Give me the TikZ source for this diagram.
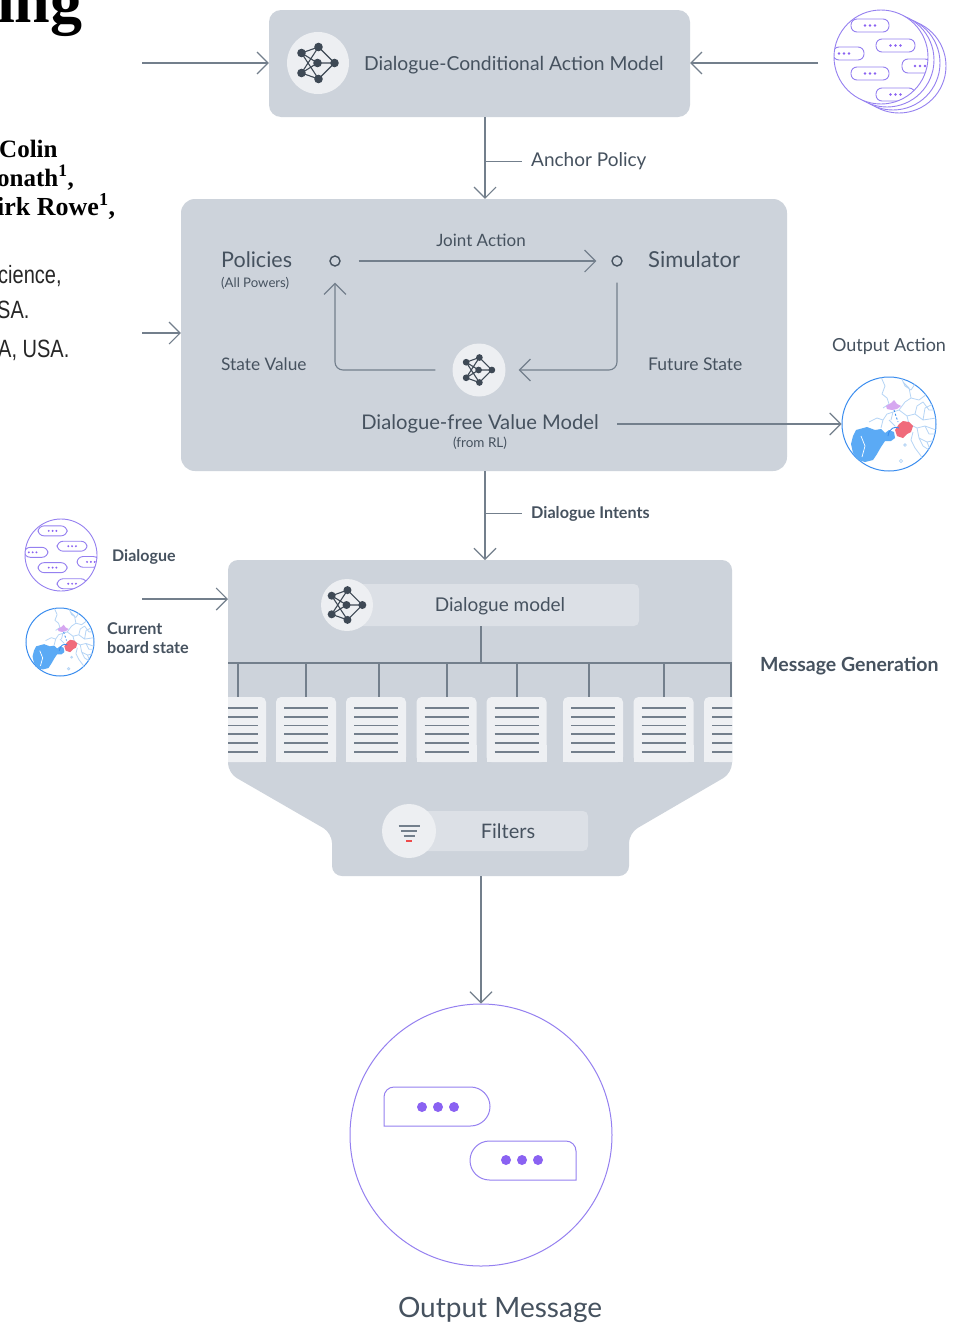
\documentclass[tikz,border=0pt]{standalone}
\usepackage{fontspec}
\setmainfont{Lato}
\newfontfamily\serifhead{Liberation Serif}
\newfontfamily\narrowsans[FakeStretch=0.8]{Liberation Sans}
\usetikzlibrary{arrows.meta,calc}

\newcommand\fsz[1]{\fontsize{#1}{#1}\selectfont}

\definecolor{panel}{HTML}{CDD3DB}
\definecolor{chip}{HTML}{EDEFF2}
\definecolor{barc}{HTML}{DCE0E6}
\definecolor{docc}{HTML}{EEF0F3}
\definecolor{ink}{HTML}{46525F}
\definecolor{wirec}{HTML}{737F8C}
\definecolor{iconc}{HTML}{3E4955}
\definecolor{violet}{HTML}{9580F0}
\definecolor{violetdot}{HTML}{8A62F2}
\definecolor{mapblue}{HTML}{3A8DEF}
\definecolor{landblue}{HTML}{5BAAF5}
\definecolor{borderc}{HTML}{B6D5F6}
\definecolor{mapred}{HTML}{F06B7B}
\definecolor{mappink}{HTML}{D6A7F0}
\definecolor{filterred}{HTML}{EE4B4B}

\tikzset{
  wire/.style={draw=wirec, line width=1.1pt},
  arr/.style={wire, -{Straight Barb[length=11pt,width=22pt,line width=1.1pt]}},
  lbl/.style={inner sep=0pt, text=ink},
  chipnode/.style={circle, fill=chip, minimum size=#1, inner sep=0pt},
  barnode/.style={fill=barc, rounded corners=5pt, inner sep=0pt},
  dotc/.style={circle, draw=ink, line width=1.4pt, minimum size=10, inner sep=0pt},
  docnode/.style={fill=docc, rounded corners=5pt, minimum width=60, minimum height=65, inner sep=0pt},
  % neural network glyph
  pics/nnet/.style={code={
    \draw[iconc, line width=1.1pt]
      (-16.5,-10) -- (0.5,-16) -- (16.5,0) -- (-0.5,0) -- (-16.5,-10) -- (0.5,16) -- (16.5,0)
      (-16.5,10) -- (0.5,16) (-16.5,10) -- (-0.5,0) (-16.5,10) -- (0.5,-16);
    \foreach \p in {(-16.5,-10),(0.5,-16),(-0.5,0),(16.5,0),(-16.5,10),(0.5,16)}
      \fill[iconc] \p circle[radius=4.3];
  }},
  % chat bubbles inside a round frame of radius 47
  pics/chat/.style={code={
    \begin{scope}
      \clip (0,0) circle[radius=47];
      \foreach \xa/\ya/\xb/\yb/\dx in
        {-30/-38/8/-25/-11, -5/-18/34/-5/14.5, -48/-10/-17/3/-37,
          21/2/50/16/39, -30/10/8/23/-11, -5/31/34/44/14.5}{
        \draw[violet, line width=0.9pt, rounded corners=6pt] (\xa,\ya) rectangle (\xb,\yb);
        \foreach \k in {-5,0,5}
          \fill[violetdot] ({\dx+\k},{(\ya+\yb)/2}) circle[radius=1.4];
      }
    \end{scope}
  }},
  % simplified board map inside a round frame of radius 47
  pics/board/.style={code={
    \begin{scope}
      \clip (0,0) circle[radius=47];
      \draw[borderc, line width=0.8pt, line join=round]
        (-8,-47) -- (-4,-38) -- (-7,-30) -- (-2,-26) -- (0,-20) -- (-6,-16)
        (-20,-2) -- (-12,-6) -- (-6,-4) -- (-2,-10) -- (4,-12) -- (10,-14) -- (16,-22) -- (22,-26) -- (30,-24) -- (38,-30) -- (47,-28)
        (10,-14) -- (18,-8) -- (26,-10) -- (34,-4) -- (47,-6)
        (18,-8) -- (20,0) -- (28,4) -- (36,2) -- (47,6)
        (28,4) -- (30,14) -- (38,18) -- (47,16)
        (24,8) -- (22,16) -- (26,24) -- (32,32) -- (36,40) -- (34,47)
        (30,14) -- (34,22) -- (40,26)
        (12,-47) -- (16,-38) -- (22,-34) -- (26,-40) -- (30,-47)
        (30,-36) -- (36,-40) -- (44,-34)
        (38,18) -- (42,28) -- (47,30)
        (-6,-4) -- (-8,4) (0,-4) -- (6,2) (4,-12) -- (2,-4)
        (34,-4) -- (36,-16) -- (44,-20)
        (22,-26) -- (20,-36) -- (14,-42)
        (26,-10) -- (28,-18) -- (34,-22) -- (40,-14) -- (47,-14)
        (36,2) -- (40,10) -- (47,10)
        (40,26) -- (44,36) -- (40,44);
      \draw[borderc, line width=0.8pt] (12,37) circle[radius=1.6] (16,21) circle[radius=1.3];
      \fill[landblue] (-33,6) -- (-22,3) -- (-14,6) -- (-8,5) -- (-4,9) -- (0,6) -- (5,8) -- (6,14)
        -- (2,17) -- (-4,17) -- (-8,23) -- (-12,30) -- (-16,36) -- (-24,38) -- (-31,36)
        -- (-36,29) -- (-38,20) -- (-36,12) -- cycle;
      \draw[white, line width=0.7pt] (-28,12) -- (-24,22) -- (-27,33);
      \fill[mapred] (10,0) -- (14,-3) -- (20,-2) -- (24,2) -- (22,8) -- (18,10) -- (14,14) -- (8,12) -- (6,6) -- cycle;
      \fill[mappink] (-3,-18) -- (2,-21) -- (5,-24) -- (8,-20) -- (12,-18) -- (8,-15) -- (3,-14) -- (-2,-15) -- cycle;
      \draw[mapblue, line width=0.9pt, dash pattern=on 2pt off 2pt] (5,-14) -- (9,-2);
      \draw[mapblue, line width=0.9pt] (-1,12) .. controls (0,4) and (6,2) .. (10,4);
    \end{scope}
  }}
}

\begin{document}
\begin{tikzpicture}[x=1pt, y=-1pt]
\useasboundingbox (0,0) rectangle (961,1325);
\fill[white] (0,0) rectangle (961,1325);

% ---------- neighbouring page text (cut at the left edge) ----------
\node[anchor=base west, inner sep=0pt] (ttl) at (-3,22) {\serifhead\bfseries\fsz{64}ing};
\node[anchor=base west, inner sep=0pt] (au1) at (-1,157) {\serifhead\bfseries\fsz{25}Colin};
\node[anchor=base west, inner sep=0pt] (au2) at (-3,186) {\serifhead\bfseries\fsz{25}onath\textsuperscript{1},};
\node[anchor=base west, inner sep=0pt] (au3) at (-3,215) {\serifhead\bfseries\fsz{26}irk Rowe\textsuperscript{1},};
\node[anchor=base west, inner sep=0pt, text=black!85] (af1) at (-2,283) {\narrowsans\fsz{25}cience,};
\node[anchor=base west, inner sep=0pt, text=black!85] (af2) at (-3,318) {\narrowsans\fsz{25}SA.};
\node[anchor=base west, inner sep=0pt, text=black!85] (af3) at (-2,357) {\narrowsans\fsz{25}A, USA.};

% ---------- dialogue-conditional action model ----------
\node[fill=panel, rounded corners=12pt, minimum width=421, minimum height=107, inner sep=0pt] (dcam) at (479.5,63.5) {};
\node[chipnode=62] (dcamicon) at (318,63) {};
\pic at (dcamicon) {nnet};
\node[lbl, anchor=base west] (dcamtxt) at (364,70) {\fsz{19.3}Dialogue-Conditional Action Model};

% stacked dialogue circles (top right)
\foreach \cx/\cy in {899/66, 893/63, 887/60}
  \draw[violet, line width=0.9pt, fill=white] (\cx,\cy) circle[radius=47];
\node[circle, draw=violet, line width=0.9pt, fill=white, minimum size=94, inner sep=0pt] (chatA) at (881,57) {};
\pic at (chatA) {chat};

\coordinate (in1) at (142,63);
\coordinate (chatin) at (818,63);
\coordinate (ax) at (485,0);
\draw[arr] (in1) -- (dcam.west |- in1);
\draw[arr] (chatin) -- (dcam.east |- chatin);

% anchor policy
\node[lbl, anchor=base west] (ap) at (531,166.5) {\fsz{19}Anchor Policy};

% ---------- planning loop ----------
\node[fill=panel, rounded corners=14pt, minimum width=606, minimum height=272, inner sep=0pt] (vbox) at (484,335) {};
\draw[arr] (dcam.south -| ax) -- (vbox.north -| ax);
\draw[wire] (ax |- ap.west) -- ([xshift=-9pt]ap.west);
\coordinate (in2) at (142,333);
\draw[arr] (in2) -- (vbox.west |- in2);

\node[lbl, anchor=base west] (pol) at (221,267.5) {\fsz{21.5}Policies};
\node[lbl, anchor=base west] (polsub) at (221,287) {\fsz{13.2}(All Powers)};
\node[lbl, anchor=base west] (sim) at (648,267.5) {\fsz{22}Simulator};
\node[lbl, anchor=base] (ja) at (481,246) {\fsz{17}Joint Action};
\node[lbl, anchor=base west] (sv) at (221,370.5) {\fsz{17.3}State Value};
\node[lbl, anchor=base west] (fs) at (648,370.5) {\fsz{17.5}Future State};

\node[dotc] (pcirc) at (335,261) {};
\node[dotc] (scirc) at (617,261) {};
\node[chipnode=53] (vnet) at (479,370) {};
\pic[scale=0.78] at (vnet) {nnet};

\draw[arr] (pcirc.east) ++(18,0) coordinate (jastart) -- ([xshift=-15pt]scirc.west);
\draw[arr, rounded corners=8pt, shorten <=16pt, shorten >=13pt] (scirc.south) |- (vnet.east);
\draw[arr, rounded corners=8pt, shorten <=17pt, shorten >=16pt] (vnet.west) -| (pcirc.south);

\node[lbl, anchor=base] (vm) at (480,429.5) {\fsz{20.2}Dialogue-free Value Model};
\node[lbl, anchor=base] (vmsub) at (480,447.5) {\fsz{13.5}(from RL)};

% output action
\node[lbl, anchor=base] (oa) at (889,351) {\fsz{18}Output Action};
\node[circle, draw=mapblue, line width=1pt, fill=white, minimum size=94, inner sep=0pt] (mapout) at (889,424) {};
\pic at (mapout) {board};
\coordinate (vmout) at (617,424);
\draw[arr] (vmout) -- (mapout.west);

% ---------- message generation ----------
\coordinate (mgtop) at (485,560);
\coordinate (mgbot) at (481,876);
\fill[panel, rounded corners=10pt] (228,560) -- (732,560) -- (732,773) -- (629,833) -- (629,876)
  -- (332,876) -- (332,833) -- (228,773) -- cycle;
\draw[arr] (vbox.south -| ax) -- (mgtop);
\node[lbl, anchor=base west, font=\bfseries] (di) at (531,518) {\fsz{16.2}Dialogue Intents};
\draw[wire] (ax |- di.west) -- ([xshift=-9pt]di.west);

% inputs on the left
\node[circle, draw=violet, line width=0.9pt, fill=white, minimum size=72, inner sep=0pt] (chatB) at (61,555) {};
\pic[scale=0.766] at (chatB) {chat};
\node[lbl, anchor=base west, font=\bfseries] (dlg) at (112,561) {\fsz{16}Dialogue};
\node[circle, draw=mapblue, line width=1pt, fill=white, minimum size=68, inner sep=0pt] (mapin) at (60,642) {};
\pic[scale=0.723] at (mapin) {board};
\node[lbl, anchor=base west, font=\bfseries] (cb1) at (107,634) {\fsz{16.2}Current};
\node[lbl, anchor=base west, font=\bfseries] (cb2) at (107,653) {\fsz{16.2}board state};
\coordinate (in3) at (142,599);
\coordinate (mgleft) at (228,599);
\draw[arr] (in3) -- (mgleft);

% dialogue model
\node[barnode, minimum width=292, minimum height=42] (dmbar) at (493,605) {};
\node[chipnode=52] (dmicon) at (347,605) {};
\pic[scale=0.93] at (dmicon) {nnet};
\node[lbl, anchor=base] (dmtxt) at (500,611.5) {\fsz{19}Dialogue model};

\coordinate (bus) at (481,663);
\draw[wire] (bus |- dmbar.south) -- (bus);
\draw[wire] (228,663) -- (732,663);

% candidate messages
\begin{scope}
  \clip (228,600) rectangle (732,800);
  \foreach \i/\cx in {1/236, 2/306, 3/376, 4/446.5, 5/516.5, 6/593, 7/663.5, 8/734}{
    \node[docnode] (d\i) at (\cx,729.5) {};
    \fill[docc] (\cx-30,745) rectangle (\cx+30,762);
    \foreach \ly in {708,717,725.5,734,743,752}
      \draw[wirec, line width=1.2pt] (\cx-22,\ly) -- (\cx+22,\ly);
  }
  \foreach \i/\dx in {1/2, 2/0, 3/3, 4/0.5, 5/0.5, 6/-4, 7/0.5, 8/-3}
    \draw[wire] ([xshift=\dx pt]d\i.north |- bus) -- ([xshift=\dx pt]d\i.north);
\end{scope}

\node[lbl, anchor=base west, font=\bfseries] (msg) at (760,671) {\fsz{19.5}Message Generation};

% filters
\node[barnode, minimum width=179, minimum height=40] (fbar) at (498.5,831) {};
\node[chipnode=54] (ficon) at (409,831) {};
\draw[wirec, line width=1.4pt] (398.5,826) -- (419.5,826) (401,831) -- (417,831) (403.5,836) -- (414.5,836);
\draw[filterred, line width=1.6pt] (406,841) -- (412,841);
\node[lbl, anchor=base] (ftxt) at (508,838.5) {\fsz{20}Filters};

% ---------- output message ----------
\node[circle, draw=violet, line width=1pt, minimum size=262, inner sep=0pt] (outmsg) at (481,1135) {};
\draw[arr] (mgbot) -- (outmsg.north);
\draw[violet, line width=1pt] (384,1126) -- (384,1097) arc[start angle=180, end angle=270, radius=10]
  -- (470.5,1087) arc[start angle=270, end angle=450, radius=19.5] -- cycle;
\draw[violet, line width=1pt] (576,1180) -- (489.5,1180) arc[start angle=90, end angle=270, radius=19.5]
  -- (566,1141) arc[start angle=270, end angle=360, radius=10] -- cycle;
\foreach \dx in {422,438,454} \fill[violetdot] (\dx,1107) circle[radius=5];
\foreach \dx in {506,522,538} \fill[violetdot] (\dx,1160) circle[radius=5];
\node[lbl, anchor=base] (omtxt) at (500,1317) {\fsz{28}Output Message};

\end{tikzpicture}
\end{document}
